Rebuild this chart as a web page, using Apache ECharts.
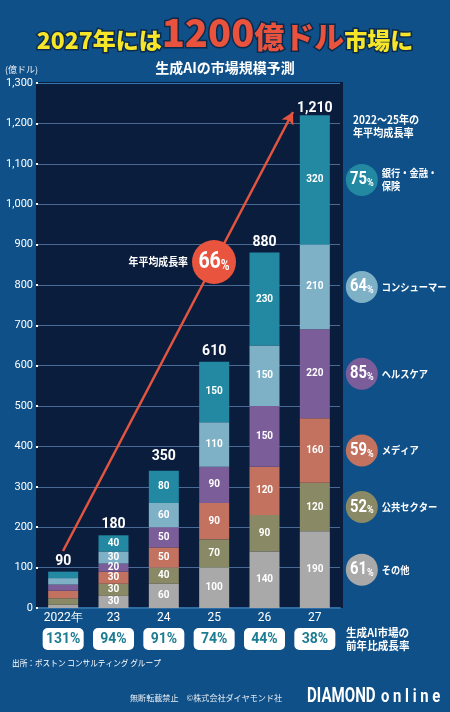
<!DOCTYPE html>
<html><head><meta charset="utf-8">
<script src="https://cdn.jsdelivr.net/npm/echarts@6/dist/echarts.min.js"></script>
<style>html,body{margin:0;padding:0;background:#0f5088;}#c{width:450px;height:712px;}</style>
</head><body><div id="c"></div>
<script>
const categories = ['2022年', '23', '24', '25', '26', '27'];
// stacked segments, bottom to top
const seriesNames = ['その他', '公共セクター', 'メディア', 'ヘルスケア', 'コンシューマー', '銀行・金融・保険'];
const other        = [8, 30, 60, 100, 140, 190];
const publicSector = [16, 30, 40, 70, 90, 120];
const media        = [19, 30, 50, 90, 120, 160];
const health       = [15, 20, 50, 90, 150, 220];
const consumer     = [16, 30, 60, 110, 150, 210];
const banking      = [16, 40, 80, 150, 230, 320];
const totals = [90, 180, 350, 610, 880, 1210];
const yoyGrowth = ['131%', '94%', '91%', '74%', '44%', '38%'];
const cagr = ['61', '52', '59', '85', '64', '75'];
const legendLabels = ['その他', '公共セクター', 'メディア', 'ヘルスケア', 'コンシューマー', '銀行・金融・\n保険'];
const overallCagr = '66';
const yMin = 0, yMax = 1300, yStep = 100;

const segs = [other, publicSector, media, health, consumer, banking];
const colors = ['#a9a9a9', '#8a8966', '#c3725f', '#7b5d99', '#7eb0c6', '#2389a3'];
const COND = "Roboto,'Noto Sans',sans-serif";
const JP = "'Noto Sans CJK JP','Noto Sans',sans-serif";

const chart = echarts.init(document.getElementById('c'), null, {renderer: 'canvas'});

const gridColors = [];
for (let v = yMin; v <= yMax; v += yStep) gridColors.push(v === yMax ? '#3577b0' : '#4a6a96');

const barSeries = segs.map((d, i) => ({
  name: seriesNames[i], type: 'bar', stack: 'm', data: d, barWidth: 30,
  itemStyle: {color: colors[i]},
  label: {show: true, position: 'inside', color: '#fff', fontSize: 10, fontWeight: 'bold', fontFamily: COND,
    formatter: p => p.dataIndex === 0 ? '' : String(p.value)}
}));

const option = {
  backgroundColor: '#0f5088',
  animation: false,
  title: [
    {text: '{y|2027年には}{r|1200}{r2|億ドル}{y|市場に}', left: 'center', top: 7,
      textStyle: {rich: {
        y: {fontFamily: JP, fontSize: 23, fontWeight: 900, color: '#f6e528', textBorderColor: '#0b2a4c', textBorderWidth: 3, verticalAlign: 'bottom', lineHeight: 40},
        r: {fontFamily: JP, fontSize: 38, fontWeight: 900, color: '#e9523c', textBorderColor: '#0b2a4c', textBorderWidth: 3, verticalAlign: 'bottom', lineHeight: 40},
        r2: {fontFamily: JP, fontSize: 30, fontWeight: 900, color: '#e9523c', textBorderColor: '#0b2a4c', textBorderWidth: 3, verticalAlign: 'bottom', lineHeight: 40}
      }}},
    {text: '生成AIの市場規模予測', left: 'center', top: 56,
      textStyle: {fontFamily: JP, fontSize: 14, fontWeight: 'bold', color: '#fff'}}
  ],
  grid: {left: 38, right: 110, top: 83, bottom: 104, containLabel: false},
  xAxis: [
    {type: 'category', data: categories, axisLine: {show: true, lineStyle: {color: '#2f6da3', width: 2}},
      axisTick: {show: false},
      axisLabel: {interval: 0, color: '#fff', fontSize: 12, fontFamily: COND, margin: 4}},
    {type: 'category', data: yoyGrowth, position: 'bottom', offset: 20, axisLine: {show: false}, axisTick: {show: false},
      axisLabel: {interval: 0, margin: 0, formatter: v => '{b|' + v + '}',
        rich: {b: {width: 41, height: 22, lineHeight: 22, align: 'center', backgroundColor: '#fff', borderRadius: 5,
          color: '#1d7c92', fontSize: 14, fontWeight: 'bold', fontFamily: COND}}}}
  ],
  yAxis: {type: 'value', min: yMin, max: yMax, interval: yStep,
    axisLine: {show: false},
    axisTick: {show: true, length: 2, lineStyle: {color: '#fff', width: 2}},
    axisLabel: {color: '#fff', fontSize: 11, fontFamily: COND, margin: 5,
      formatter: v => v.toLocaleString('en-US')},
    splitLine: {show: true, lineStyle: {color: gridColors, width: 1}}},
  series: barSeries.concat([{
    name: 'total', type: 'line', data: totals, symbol: 'circle', symbolSize: 1, showSymbol: true,
    itemStyle: {color: 'rgba(0,0,0,0)'}, lineStyle: {opacity: 0}, silent: true, z: 5,
    label: {show: true, position: 'top', distance: 3, color: '#fff', fontSize: 14, fontWeight: 'bold', fontFamily: COND,
      formatter: p => p.value.toLocaleString('en-US')},
    markLine: {silent: true, symbol: ['none', 'arrow'], symbolSize: [10, 12], label: {show: false},
      lineStyle: {color: '#e4553f', width: 2.5, type: 'solid'},
      data: [[{x: 63, y: 551}, {x: 293, y: 112}]]}
  }])
};
chart.setOption(option);

function sx(x, y, scale, style, z) {
  return {type: 'text', x: x, y: y, scaleX: scale, z: z || 0, style: Object.assign({x: 0, y: 0}, style)};
}

const graphics = [
  {type: 'rect', z: -10, shape: {x: 36, y: 82, width: 307, height: 526}, style: {fill: '#0a1d3c'}},
  {type: 'text', style: {text: '(億ドル)', x: 5, y: 70, fill: '#e8eef5', fontSize: 9, fontFamily: JP, verticalAlign: 'middle'}},
  sx(188, 262, 0.9, {text: '年平均成長率', fill: '#fff', fontSize: 11, fontWeight: 'bold', fontFamily: JP, align: 'right', verticalAlign: 'middle'}, 50),
  {type: 'circle', z: 50, shape: {cx: 214, cy: 262, r: 22}, style: {fill: '#e8543e'}},
  sx(214, 262, 0.85, {text: '{a|' + overallCagr + '}{b|%}', align: 'center', verticalAlign: 'middle',
    rich: {a: {fontSize: 23, fontWeight: 'bold', fill: '#fff', fontFamily: COND, verticalAlign: 'bottom'},
           b: {fontSize: 14, fontWeight: 'bold', fill: '#fff', fontFamily: COND, verticalAlign: 'bottom'}}}, 51),
  sx(353, 126, 0.92, {text: '2022〜25年の\n年平均成長率', fill: '#fff', fontSize: 11, fontWeight: 'bold', fontFamily: JP, lineHeight: 13, verticalAlign: 'middle'}),
  sx(346, 639, 0.92, {text: '生成AI市場の\n前年比成長率', fill: '#fff', fontSize: 11.5, fontWeight: 'bold', fontFamily: JP, lineHeight: 13, verticalAlign: 'middle'}),
  sx(12, 663, 0.9, {text: '出所：ボストン コンサルティング グループ', fill: '#fff', fontSize: 8.5, fontFamily: JP, verticalAlign: 'middle'}),
  sx(130, 698, 0.95, {text: '無断転載禁止　©株式会社ダイヤモンド社', fill: '#e6ecf3', fontSize: 8.5, fontFamily: JP, verticalAlign: 'middle'}),
  sx(307, 697, 0.72, {text: 'DIAMOND', fill: '#fff', fontSize: 21, fontWeight: 'bold', fontFamily: COND, verticalAlign: 'middle'}),
  sx(381, 697, 0.78, {text: 'o n l i n e', fill: '#fff', fontSize: 19, fontWeight: 'bold', fontFamily: COND, verticalAlign: 'middle'})
];

let cum = 0;
const last = categories.length - 1;
segs.forEach((d, i) => {
  const mid = cum + d[last] / 2;
  cum += d[last];
  const pt = chart.convertToPixel({gridIndex: 0}, [last, mid]);
  const cx = pt[0] + 47, cy = pt[1];
  graphics.push({type: 'circle', shape: {cx: cx, cy: cy, r: 16}, style: {fill: colors[i]}});
  graphics.push(sx(cx, cy, 0.82, {text: '{a|' + cagr[i] + '}{b|%}', align: 'center', verticalAlign: 'middle',
    rich: {a: {fontSize: 18, fontWeight: 'bold', fill: '#fff', fontFamily: COND, verticalAlign: 'bottom'},
           b: {fontSize: 11, fontWeight: 'bold', fill: '#fff', fontFamily: COND, verticalAlign: 'bottom'}}}, 5));
  graphics.push(sx(cx + 20, cy, 0.88, {text: legendLabels[i], fill: '#fff', fontSize: 10.5, fontWeight: 'bold', fontFamily: JP, lineHeight: 13, verticalAlign: 'middle'}));
});
chart.setOption({graphic: graphics});
</script>
</body></html>
